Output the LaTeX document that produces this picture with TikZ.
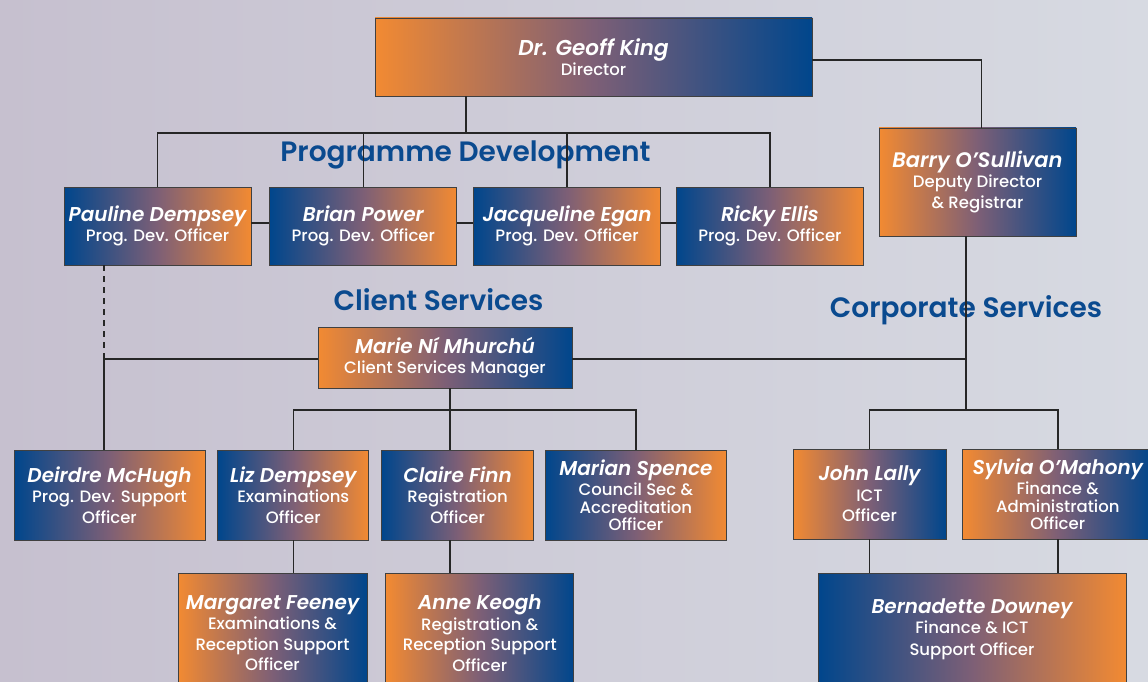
\documentclass[tikz,border=0pt]{standalone}
\usepackage{fontspec}
\setmainfont{Poppins}[UprightFont=* Medium, BoldFont=* SemiBold, ItalicFont=* Medium Italic, BoldItalicFont=* SemiBold Italic]
\usetikzlibrary{positioning}
\definecolor{kOrange}{RGB}{242,138,50}
\definecolor{kBlue}{RGB}{0,70,140}
\definecolor{kMauve}{RGB}{125,95,118}
\definecolor{kHead}{RGB}{10,74,143}
\definecolor{bgLeft}{RGB}{198,192,207}
\definecolor{bgRight}{RGB}{215,218,226}
\newcommand{\person}[3][20]{{\fontsize{#1}{23}\selectfont\bfseries\itshape #2}\\#3}

\begin{document}
\begin{tikzpicture}
  [x=1pt,y=-1pt,
  stelle/.style={rectangle,draw=black!75,line width=0.8pt,inner sep=0pt,text=white,align=center,font=\fontsize{16.5}{20.5}\selectfont},
  stelleOB/.style={stelle,left color=kOrange,right color=kBlue,middle color=kMauve},
  stelleBO/.style={stelle,left color=kBlue,right color=kOrange,middle color=kMauve},
  linie/.style={draw=black!85,line width=1.4pt},
  bereich/.style={text=kHead,font=\fontsize{28}{32}\selectfont\bfseries}]
  \fill [left color=bgLeft,right color=bgRight] (0,0) rectangle (1148,682);
  \useasboundingbox (0,0) rectangle (1148,682);
  % headings
  \node (progdev) [bereich] at (465.5,155) {Programme Development};
  \node (client) [bereich] at (438.5,300) {Client Services};
  \node (corporate) [bereich] at (966,310) {Corporate Services};
  % top
  \node (Director) [stelleOB, minimum width=437pt, minimum height=78pt] at (593.5,57) {\person[21.5]{Dr. Geoff King}{Director}};
  \node (Barry) [stelleOB, minimum width=197pt, minimum height=108pt] at (977.5,182) {\person[21]{Barry O’Sullivan}{Deputy Director\\\& Registrar}};
  % programme development
  \node (Pauline) [stelleBO, minimum width=187pt, minimum height=78pt] at (157.5,226) {\person{Pauline Dempsey}{Prog. Dev. Officer}};
  \node (Brian) [stelleBO, minimum width=187pt, minimum height=78pt, right=18pt of Pauline] {\person{Brian Power}{Prog. Dev. Officer}};
  \node (Jacqueline) [stelleBO, minimum width=187pt, minimum height=78pt, right=16pt of Brian] {\person{Jacqueline Egan}{Prog. Dev. Officer}};
  \node (Ricky) [stelleBO, minimum width=187pt, minimum height=78pt, right=15pt of Jacqueline] {\person{Ricky Ellis}{Prog. Dev. Officer}};
  % client services
  \node (Marie) [stelleOB, minimum width=254pt, minimum height=61pt] at (445,357.5) {\person{Marie Ní Mhurchú}{Client Services Manager}};
  \node (Deirdre) [stelleBO, minimum width=191pt, minimum height=90pt] at (109.5,495) {\person{Deirdre McHugh}{Prog. Dev. Support\\Officer}};
  \node (Liz) [stelleBO, minimum width=151pt, minimum height=90pt, right=12pt of Deirdre] {\person{Liz Dempsey}{Examinations\\Officer}};
  \node (Claire) [stelleBO, minimum width=152pt, minimum height=90pt, right=12pt of Liz] {\person{Claire Finn}{Registration\\Officer}};
  \node (Marian) [stelleBO, minimum width=181pt, minimum height=90pt, right=11pt of Claire] {\person{Marian Spence}{Council Sec \&\\[-3pt]Accreditation\\[-3pt]Officer}};
  \node (Margaret) [stelleOB, minimum width=189pt, minimum height=120pt] at (272.5,633) {\person{Margaret Feeney}{Examinations \&\\Reception Support\\Officer}};
  \node (Anne) [stelleOB, minimum width=188pt, minimum height=120pt, right=18pt of Margaret] {\person{Anne Keogh}{Registration \&\\Reception Support\\Officer}};
  % corporate services
  \node (John) [stelleOB, minimum width=153pt, minimum height=90pt] at (869.5,494) {\person{John Lally}{ICT\\Officer}};
  \node (Sylvia) [stelleOB, minimum width=190pt, minimum height=90pt, right=16pt of John] {\person{Sylvia O’Mahony}{Finance \&\\[-3pt]Administration\\[-3pt]Officer}};
  \node (Bernadette) [stelleBO, minimum width=308pt, minimum height=112pt] at (972,629) {\person{Bernadette Downey}{Finance \& ICT\\[1pt]Support Officer}};
  % connectors
  \coordinate (pdBus) at (466,133);
  \coordinate (pdKnick) at (104,359);
  \coordinate (clBus) at (450,410);
  \coordinate (csBus) at (966,410);
  \draw [linie] (Director.south -| pdBus) -- (pdBus);
  \draw [linie] (Pauline.north) |- (pdBus) -| (Ricky.north);
  \draw [linie] (Brian.north) -- (Brian.north |- pdBus);
  \draw [linie] (Jacqueline.north) -- (Jacqueline.north |- pdBus);
  \draw [linie] ([yshift=-3pt]Director.east) -| ([xshift=4pt]Barry.north);
  \draw [linie] ([yshift=3pt]Pauline.east) -- ([yshift=3pt]Brian.west);
  \draw [linie] ([yshift=3pt]Brian.east) -- ([yshift=3pt]Jacqueline.west);
  \draw [linie] ([yshift=3pt]Jacqueline.east) -- ([yshift=3pt]Ricky.west);
  \draw [linie, dash pattern=on 6pt off 5pt] (Pauline.south -| pdKnick) -- (pdKnick);
  \draw [linie] (Marie.west |- pdKnick) -- (pdKnick) -- (pdKnick |- Deirdre.north);
  \draw [linie] (Marie.east |- pdKnick) -- (pdKnick -| csBus);
  \draw [linie] (Marie.south -| clBus) -- (clBus);
  \draw [linie] (Liz.north) |- (clBus) -| (Marian.north);
  \draw [linie] (clBus) -- (clBus |- Claire.north);
  \draw [linie] (Liz.south) -- (Liz.south |- Margaret.north);
  \draw [linie] (Claire.south -| clBus) -- (Anne.north -| clBus);
  \draw [linie] (Barry.south -| csBus) -- (csBus);
  \draw [linie] (John.north) |- (csBus) -| (Sylvia.north);
  \draw [linie] (John.south) -- (John.south |- Bernadette.north);
  \draw [linie] (Sylvia.south) -- (Sylvia.south |- Bernadette.north);
\end{tikzpicture}
\end{document}
